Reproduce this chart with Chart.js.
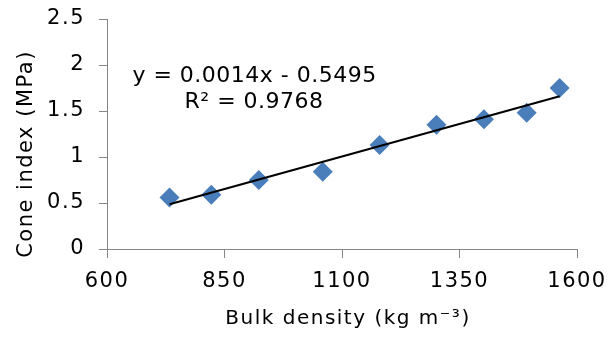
<!DOCTYPE html>
<html><head><meta charset="utf-8">
<script src="https://cdn.jsdelivr.net/npm/chart.js@4.4.0/dist/chart.umd.min.js"></script>
<style>html,body{margin:0;padding:0;background:#fff;overflow:hidden}canvas{display:block}</style>
</head><body>
<canvas id="c" width="610" height="337"></canvas>
<script>
// ---- data ----
const bulkDensity = [733, 822, 923, 1059, 1180, 1301, 1402, 1493, 1563];
const coneIndex   = [0.56, 0.59, 0.75, 0.84, 1.13, 1.35, 1.41, 1.48, 1.75];
const xTicks = [600, 850, 1100, 1350, 1600];
const yTicks = [0, 0.5, 1, 1.5, 2, 2.5];
const xTickLabels = ['600', '850', '1100', '1350', '1600'];
const yTickLabels = ['0', '0.5', '1', '1.5', '2', '2.5'];
const eqSlope = '0.0014';
const eqIntercept = '0.5495';
const eqR2 = '0.9768';
const xTitle = 'Bulk density (kg m\u207B\u00B3)';
const yTitle = 'Cone index (MPa)';

// least-squares trendline through the data (as Excel does)
const n = bulkDensity.length;
const mx = bulkDensity.reduce((a,b)=>a+b,0)/n;
const my = coneIndex.reduce((a,b)=>a+b,0)/n;
let sxy = 0, sxx = 0;
for (let i=0;i<n;i++){ sxy += (bulkDensity[i]-mx)*(coneIndex[i]-my); sxx += (bulkDensity[i]-mx)**2; }
const slope = sxy/sxx, intercept = my - slope*mx;
const xMin = Math.min(...bulkDensity), xMax = Math.max(...bulkDensity);
const trend = [{x:xMin, y:slope*xMin+intercept},{x:xMax, y:slope*xMax+intercept}];

const FONT = "'DejaVu Sans', Arial, sans-serif";
const LS = '1.5px';

const textPlugin = {
  id: 'textPlugin',
  beforeUpdate(chart){ chart.ctx.letterSpacing = LS; },
  beforeLayout(chart){ chart.ctx.letterSpacing = LS; },
  beforeDraw(chart){ chart.ctx.letterSpacing = LS; },
  afterDraw(chart){
    const ctx = chart.ctx, xs = chart.scales.x, ys = chart.scales.y;
    ctx.save();
    ctx.fillStyle = '#000';
    // equation
    ctx.font = "22px " + FONT;
    ctx.letterSpacing = '0.5px';
    ctx.textAlign = 'left';
    ctx.textBaseline = 'alphabetic';
    ctx.fillText('y = ' + eqSlope + 'x - ' + eqIntercept, xs.getPixelForValue(654), ys.getPixelForValue(1.815));
    ctx.fillText('R\u00B2 = ' + eqR2, xs.getPixelForValue(765), ys.getPixelForValue(1.53));
    // x title
    ctx.letterSpacing = LS;
    ctx.font = "20px " + FONT;
    ctx.textAlign = 'center';
    ctx.fillText(xTitle, 348, 324);
    // y title
    ctx.font = "21px " + FONT;
    ctx.translate(32, 154);
    ctx.rotate(-Math.PI/2);
    ctx.fillText(yTitle, 0, 0);
    ctx.restore();
  }
};

new Chart(document.getElementById('c'), {
  type: 'scatter',
  data: {
    datasets: [
      { label: 'trend', data: trend, showLine: true, borderColor: '#000', borderWidth: 2,
        pointRadius: 0, pointHoverRadius: 0, order: 0 },
      { label: 'Cone index', data: bulkDensity.map((x,i)=>({x, y: coneIndex[i]})),
        pointStyle: 'rectRot', pointRadius: 10, pointHoverRadius: 10,
        backgroundColor: '#4A7EBB', borderColor: '#4A7EBB', borderWidth: 0, order: 1 }
    ]
  },
  options: {
    responsive: false, animation: false, devicePixelRatio: 1,
    layout: { padding: { top: 19, right: 33, left: 0, bottom: 0 } },
    plugins: { legend: { display: false }, tooltip: { enabled: false } },
    scales: {
      x: {
        type: 'linear', min: 600, max: 1600,
        afterBuildTicks: s => { s.ticks = xTicks.map(v => ({ value: v })); },
        afterFit: s => { s.height = 88; s.paddingLeft = 0; s.paddingRight = 0; },
        grid: { drawOnChartArea: false, drawTicks: true, tickLength: 9, color: '#868686', lineWidth: 1 },
        border: { color: '#868686', width: 1 },
        ticks: { font: { family: FONT, size: 21 }, color: '#000', padding: 11, maxRotation: 0, autoSkip: false,
                 callback: (v, i) => xTickLabels[i] }
      },
      y: {
        min: 0, max: 2.5,
        afterBuildTicks: s => { s.ticks = yTicks.map(v => ({ value: v })); },
        afterFit: s => { s.width = 107; s.paddingTop = 0; s.paddingBottom = 0; },
        grid: { drawOnChartArea: false, drawTicks: true, tickLength: 8, color: '#868686', lineWidth: 1 },
        border: { color: '#868686', width: 1 },
        ticks: { font: { family: FONT, size: 21 }, color: '#000', padding: 14,
                 callback: (v, i) => yTickLabels[i] }
      }
    }
  },
  plugins: [textPlugin]
});
</script>
</body></html>
